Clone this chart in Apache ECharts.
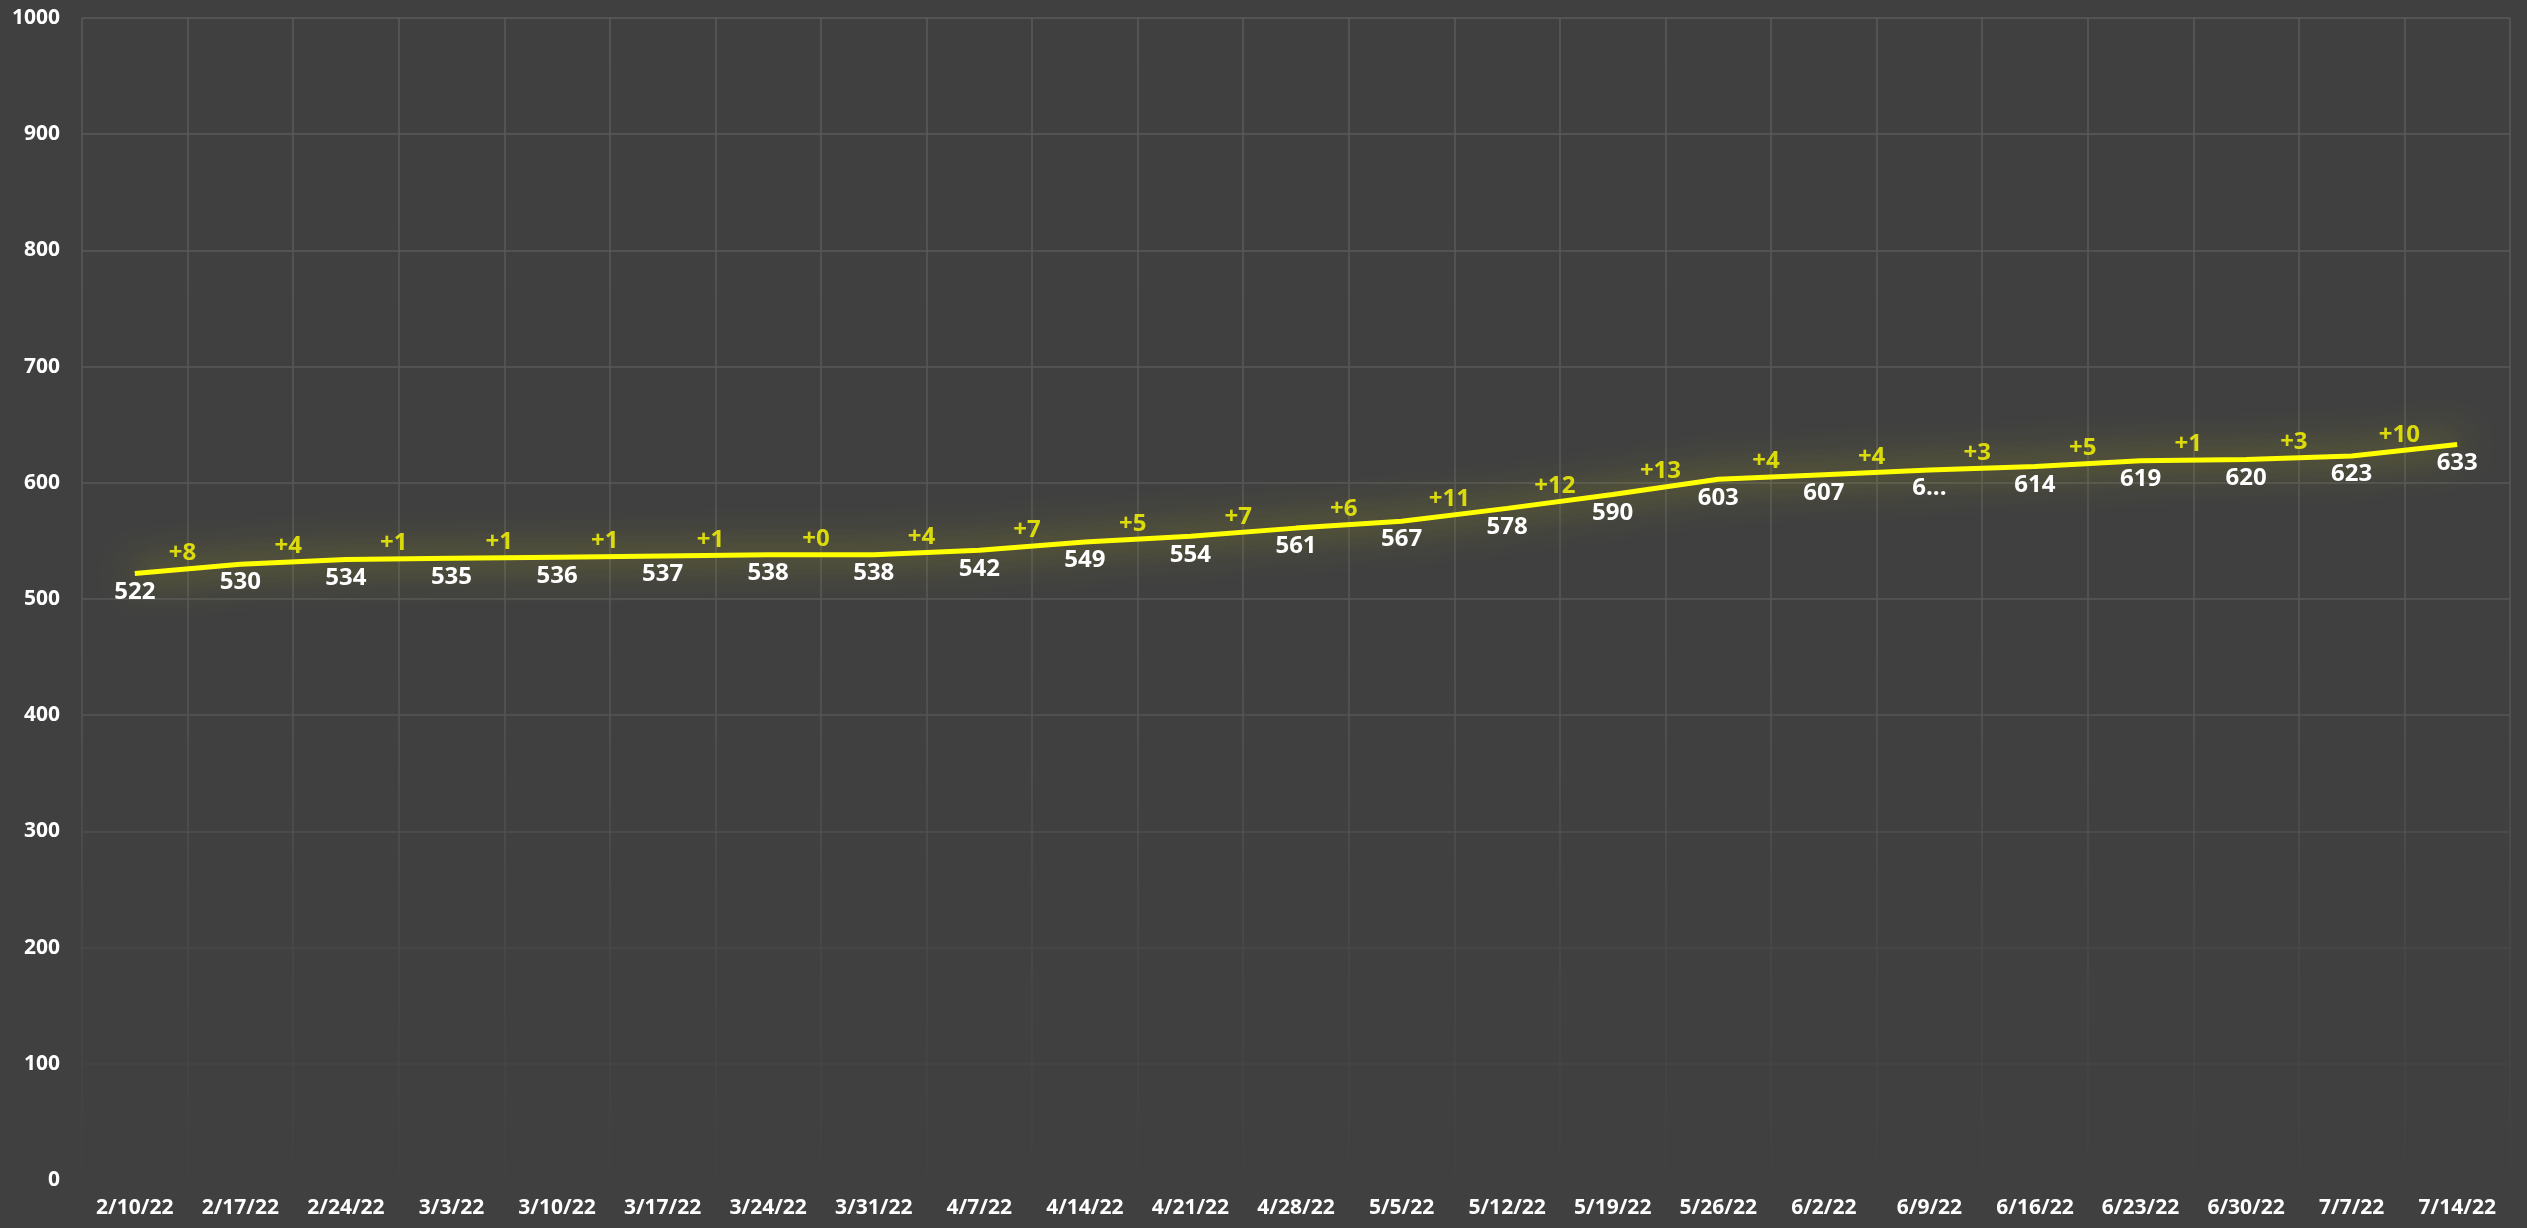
<!DOCTYPE html>
<html>
<head>
<meta charset="utf-8">
<script src="https://cdn.jsdelivr.net/npm/echarts@6/dist/echarts.min.js"></script>
<style>
html,body{margin:0;padding:0;background:#404040;}
#chart{width:2527px;height:1228px;}
</style>
</head>
<body>
<div id="chart"></div>
<script>
const categories = ['2/10/22','2/17/22','2/24/22','3/3/22','3/10/22','3/17/22','3/24/22','3/31/22','4/7/22','4/14/22','4/21/22','4/28/22','5/5/22','5/12/22','5/19/22','5/26/22','6/2/22','6/9/22','6/16/22','6/23/22','6/30/22','7/7/22','7/14/22'];
const values = [522,530,534,535,536,537,538,538,542,549,554,561,567,578,590,603,607,611,614,619,620,623,633];
const pointLabels = ['522','530','534','535','536','537','538','538','542','549','554','561','567','578','590','603','607','6...','614','619','620','623','633'];
const yTicks = {min:0, max:1000, interval:100};

const diffData = [];
for (let i = 0; i < values.length - 1; i++) {
  diffData.push({value:[i + 0.5, (values[i] + values[i+1]) / 2], diff: values[i+1] - values[i]});
}

const gridColor = {type:'linear', x:0, y:0, x2:0, y2:1228, global:true,
  colorStops:[{offset:0,color:'#5a5a5a'},{offset:0.55,color:'#565656'},{offset:0.8,color:'#474747'},{offset:1,color:'#404040'}]};

const font = '"Open Sans", "Noto Sans", sans-serif';
const chart = echarts.init(document.getElementById('chart'));
chart.setOption({
  backgroundColor:'#404040',
  animation:false,
  grid:{left:82, right:17, top:18, bottom:48},
  xAxis:[{
    type:'category', data:categories, boundaryGap:true,
    axisLine:{show:false}, axisTick:{show:false},
    axisLabel:{color:'#ffffff', fontFamily:font, fontWeight:'bold', fontSize:21, margin:18, interval:0},
    splitLine:{show:true, lineStyle:{color:gridColor, width:1.5}}
  },{
    type:'value', min:-0.5, max:22.5, show:false
  }],
  yAxis:{
    type:'value', min:yTicks.min, max:yTicks.max, interval:yTicks.interval,
    axisLine:{show:false}, axisTick:{show:false},
    axisLabel:{color:'#ffffff', fontFamily:font, fontWeight:'bold', fontSize:21, margin:22,
      formatter:v => String(v)},
    splitLine:{show:true, lineStyle:{color:gridColor, width:1.5}}
  },
  series:[{
    type:'line', data:values, xAxisIndex:0, smooth:false,
    symbol:'circle', symbolSize:1, showSymbol:true,
    itemStyle:{color:'rgba(0,0,0,0)'},
    lineStyle:{color:'#ffff00', width:5, shadowColor:'rgba(255,255,0,0.7)', shadowBlur:36},
    labelLayout:{hideOverlap:false},
    label:{show:true, position:'bottom', distance:6, color:'#ffffff', fontFamily:font, fontWeight:'bold', fontSize:24,
      formatter:p => pointLabels[p.dataIndex]},
    z:3
  },{
    type:'scatter', data:diffData, xAxisIndex:1, symbolSize:1,
    itemStyle:{color:'rgba(0,0,0,0)'},
    label:{show:true, position:'top', distance:3, offset:[-5,0], color:'#ffff00', fontFamily:font, fontWeight:'bold', fontSize:24,
      formatter:p => '+' + p.data.diff},
    z:4
  }]
});
</script>
</body>
</html>
